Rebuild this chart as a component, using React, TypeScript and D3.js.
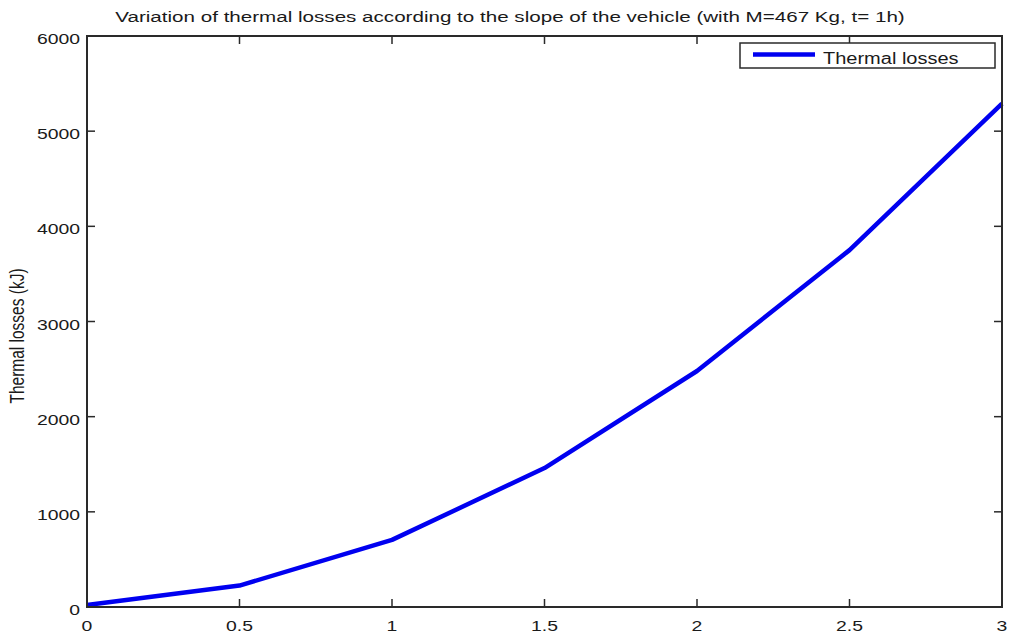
import React from "react";
import * as d3 from "d3";

const slopes = [0, 0.5, 1, 1.5, 2, 2.5, 3];
const thermalLosses = [20, 225, 705, 1460, 2480, 3750, 5290];
const xTicks = [0, 0.5, 1, 1.5, 2, 2.5, 3];
const yTicks = [0, 1000, 2000, 3000, 4000, 5000, 6000];
const titleText = "Variation of thermal losses according to the slope of the vehicle (with M=467 Kg, t= 1h)";
const yLabel = "Thermal losses (kJ)";
const legendLabel = "Thermal losses";

const W = 1010, H = 633;
const L = 87, R = 1002, T = 36, B = 607;
const SX = 1.25;
const FONT = "Liberation Sans, Arial, sans-serif";
const AXIS = "#2a2a2a";
const BLUE = "#0000f0";

export default function App() {
  const x = d3.scaleLinear().domain([0, 3]).range([L, R]);
  const y = d3.scaleLinear().domain([0, 6000]).range([B, T]);
  const pts: [number, number][] = slopes.map((s, i) => [s, thermalLosses[i]]);
  const line = d3.line<[number, number]>().x(d => x(d[0])).y(d => y(d[1]));
  const tick = 8;

  const st = (tx: number, ty: number, sx = SX) => `translate(${tx},${ty}) scale(${sx},1)`;

  return (
    <svg width={W} height={H} style={{ position: "absolute", left: 0, top: 0, background: "#fff" }} fontFamily={FONT}>
      <rect x={0} y={0} width={W} height={H} fill="#fff" />
      {/* title */}
      <g transform={st(510, 22, 1.33)}>
        <text textAnchor="middle" fontSize={15.5} fill="#1a1a1a">{titleText}</text>
      </g>
      {/* y label */}
      <g transform={`translate(24,336) scale(${SX},1) rotate(-90)`}>
        <text textAnchor="middle" fontSize={15.5} fill="#1a1a1a">{yLabel}</text>
      </g>
      {/* ticks */}
      {xTicks.map(t => (
        <g key={"x" + t}>
          <line x1={x(t)} x2={x(t)} y1={B} y2={B - tick} stroke={AXIS} strokeWidth={1.5} />
          <line x1={x(t)} x2={x(t)} y1={T} y2={T + tick} stroke={AXIS} strokeWidth={1.5} />
          <g transform={st(x(t), 631)}>
            <text textAnchor="middle" fontSize={15.5} fill="#1a1a1a">{String(t)}</text>
          </g>
        </g>
      ))}
      {yTicks.map(t => (
        <g key={"y" + t}>
          <line x1={L} x2={L + tick} y1={y(t)} y2={y(t)} stroke={AXIS} strokeWidth={1.5} />
          <line x1={R} x2={R - tick} y1={y(t)} y2={y(t)} stroke={AXIS} strokeWidth={1.5} />
          <g transform={st(80, y(t) + 8)}>
            <text textAnchor="end" fontSize={15.5} fill="#1a1a1a">{String(t)}</text>
          </g>
        </g>
      ))}
      {/* curve */}
      <path d={line(pts) || ""} fill="none" stroke={BLUE} strokeWidth={4.5} strokeLinejoin="round" />
      {/* axes box */}
      <rect x={L} y={T} width={R - L} height={B - T} fill="none" stroke={AXIS} strokeWidth={2} />
      {/* legend */}
      <rect x={740} y={43} width={255} height={25} fill="#fff" stroke={AXIS} strokeWidth={1.5} />
      <line x1={753} x2={815} y1={54.5} y2={54.5} stroke={BLUE} strokeWidth={4.5} />
      <g transform={st(823, 64)}>
        <text fontSize={16} fill="#1a1a1a">{legendLabel}</text>
      </g>
    </svg>
  );
}
